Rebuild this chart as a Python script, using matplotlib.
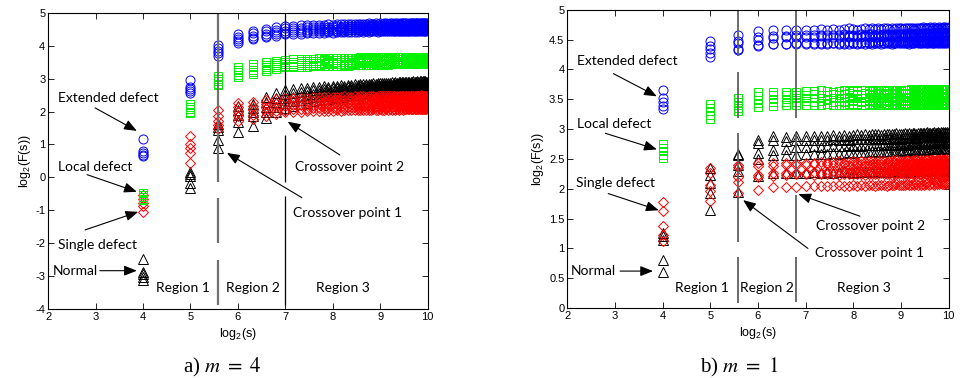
import numpy as np
import matplotlib
matplotlib.use('Agg')
import matplotlib.pyplot as plt
from matplotlib.ticker import FuncFormatter, MultipleLocator

plt.rcParams['font.family'] = ['Liberation Sans', 'DejaVu Sans']
plt.rcParams['axes.unicode_minus'] = False
plt.rcParams['mathtext.fontset'] = 'custom'
plt.rcParams['mathtext.rm'] = 'Liberation Sans'
plt.rcParams['mathtext.it'] = 'Liberation Sans:italic'

# window sizes s
S_VALUES = [16, 32, 48, 64, 80, 96, 112, 128, 144, 160, 176, 192, 208, 224, 240, 256,
            272, 288, 304, 320, 336, 352, 368, 384, 400, 416, 432, 448, 464, 480, 496, 512,
            528, 544, 560, 576, 592, 608, 624, 640, 656, 672, 688, 704, 720, 736, 752, 768,
            784, 800, 816, 832, 848, 864, 880, 896, 912, 928, 944, 960, 976, 992, 1008, 1024]

# ---------------- panel a) m = 4 ----------------
A_EXTENDED = [
    [1.15, 2.95, 4.02, 4.35, 4.45, 4.52, 4.56, 4.60, 4.61, 4.62, 4.63, 4.62, 4.64, 4.64, 4.65, 4.64,
     4.65, 4.66, 4.65, 4.66, 4.66, 4.67, 4.66, 4.67, 4.66, 4.67, 4.68, 4.67, 4.66, 4.68, 4.67, 4.68,
     4.67, 4.68, 4.69, 4.67, 4.68, 4.68, 4.67, 4.69, 4.68, 4.67, 4.68, 4.69, 4.68, 4.68, 4.69, 4.67,
     4.68, 4.69, 4.68, 4.69, 4.68, 4.70, 4.68, 4.69, 4.68, 4.69, 4.70, 4.68, 4.69, 4.68, 4.69, 4.68],
    [0.80, 2.75, 3.92, 4.27, 4.38, 4.44, 4.49, 4.53, 4.54, 4.55, 4.56, 4.56, 4.57, 4.58, 4.57, 4.58,
     4.59, 4.58, 4.59, 4.60, 4.59, 4.60, 4.61, 4.60, 4.60, 4.61, 4.60, 4.61, 4.62, 4.60, 4.61, 4.62,
     4.61, 4.60, 4.62, 4.61, 4.62, 4.61, 4.60, 4.62, 4.61, 4.62, 4.63, 4.61, 4.62, 4.61, 4.62, 4.63,
     4.61, 4.62, 4.63, 4.62, 4.61, 4.62, 4.63, 4.62, 4.61, 4.63, 4.62, 4.62, 4.63, 4.61, 4.62, 4.63],
    [0.74, 2.68, 3.84, 4.20, 4.30, 4.37, 4.42, 4.46, 4.47, 4.48, 4.49, 4.50, 4.50, 4.51, 4.52, 4.51,
     4.52, 4.53, 4.52, 4.53, 4.54, 4.53, 4.54, 4.55, 4.54, 4.53, 4.55, 4.54, 4.55, 4.56, 4.54, 4.55,
     4.56, 4.55, 4.54, 4.56, 4.55, 4.56, 4.55, 4.57, 4.55, 4.56, 4.55, 4.56, 4.57, 4.55, 4.56, 4.57,
     4.56, 4.55, 4.57, 4.56, 4.57, 4.56, 4.55, 4.57, 4.56, 4.57, 4.56, 4.58, 4.56, 4.57, 4.56, 4.57],
    [0.69, 2.62, 3.77, 4.14, 4.24, 4.31, 4.36, 4.40, 4.41, 4.42, 4.43, 4.44, 4.44, 4.45, 4.46, 4.45,
     4.46, 4.47, 4.46, 4.47, 4.48, 4.47, 4.48, 4.47, 4.48, 4.49, 4.48, 4.49, 4.48, 4.49, 4.50, 4.49,
     4.48, 4.50, 4.49, 4.50, 4.49, 4.50, 4.51, 4.49, 4.50, 4.49, 4.51, 4.50, 4.49, 4.50, 4.51, 4.50,
     4.50, 4.51, 4.49, 4.50, 4.51, 4.50, 4.52, 4.50, 4.51, 4.50, 4.51, 4.50, 4.52, 4.51, 4.50, 4.51],
    [0.66, 2.57, 3.70, 4.08, 4.19, 4.26, 4.31, 4.35, 4.36, 4.37, 4.38, 4.39, 4.39, 4.40, 4.41, 4.40,
     4.41, 4.42, 4.41, 4.42, 4.43, 4.42, 4.43, 4.44, 4.43, 4.44, 4.43, 4.44, 4.45, 4.44, 4.43, 4.45,
     4.44, 4.45, 4.44, 4.45, 4.46, 4.44, 4.45, 4.46, 4.45, 4.44, 4.46, 4.45, 4.46, 4.45, 4.46, 4.45,
     4.46, 4.45, 4.47, 4.46, 4.45, 4.46, 4.47, 4.46, 4.45, 4.47, 4.46, 4.47, 4.46, 4.45, 4.46, 4.47],
]
A_LOCAL = [
    [-0.48, 2.22, 3.07, 3.35, 3.43, 3.50, 3.55, 3.58, 3.59, 3.60, 3.60, 3.61, 3.62, 3.61, 3.62, 3.63,
     3.62, 3.63, 3.64, 3.63, 3.64, 3.63, 3.64, 3.65, 3.64, 3.65, 3.64, 3.65, 3.66, 3.64, 3.65, 3.66,
     3.65, 3.66, 3.65, 3.64, 3.66, 3.65, 3.66, 3.67, 3.65, 3.66, 3.65, 3.66, 3.67, 3.66, 3.65, 3.66,
     3.67, 3.66, 3.65, 3.66, 3.67, 3.66, 3.67, 3.65, 3.66, 3.67, 3.66, 3.67, 3.66, 3.67, 3.66, 3.67],
    [-0.55, 2.14, 2.99, 3.27, 3.35, 3.42, 3.47, 3.51, 3.52, 3.53, 3.54, 3.54, 3.55, 3.56, 3.55, 3.56,
     3.57, 3.56, 3.57, 3.58, 3.57, 3.58, 3.59, 3.58, 3.57, 3.59, 3.58, 3.59, 3.60, 3.58, 3.59, 3.60,
     3.59, 3.58, 3.60, 3.59, 3.60, 3.59, 3.61, 3.59, 3.60, 3.59, 3.60, 3.61, 3.59, 3.60, 3.61, 3.60,
     3.59, 3.60, 3.61, 3.60, 3.59, 3.61, 3.60, 3.61, 3.60, 3.59, 3.61, 3.60, 3.61, 3.60, 3.62, 3.60],
    [-0.60, 2.07, 2.92, 3.20, 3.27, 3.35, 3.40, 3.44, 3.45, 3.46, 3.47, 3.48, 3.48, 3.49, 3.50, 3.49,
     3.50, 3.51, 3.50, 3.51, 3.52, 3.51, 3.52, 3.53, 3.52, 3.53, 3.52, 3.53, 3.54, 3.53, 3.52, 3.54,
     3.53, 3.54, 3.53, 3.54, 3.55, 3.53, 3.54, 3.55, 3.54, 3.53, 3.55, 3.54, 3.55, 3.54, 3.55, 3.54,
     3.55, 3.54, 3.56, 3.55, 3.54, 3.55, 3.56, 3.55, 3.54, 3.56, 3.55, 3.56, 3.55, 3.54, 3.55, 3.56],
    [-0.65, 2.00, 2.85, 3.12, 3.20, 3.28, 3.35, 3.38, 3.39, 3.40, 3.41, 3.42, 3.42, 3.43, 3.44, 3.43,
     3.44, 3.45, 3.44, 3.45, 3.46, 3.45, 3.46, 3.47, 3.46, 3.47, 3.46, 3.47, 3.48, 3.47, 3.46, 3.48,
     3.47, 3.48, 3.49, 3.47, 3.48, 3.49, 3.48, 3.49, 3.50, 3.48, 3.49, 3.50, 3.49, 3.48, 3.50, 3.49,
     3.50, 3.49, 3.50, 3.51, 3.49, 3.50, 3.51, 3.50, 3.49, 3.51, 3.50, 3.51, 3.50, 3.49, 3.50, 3.51],
    [-0.70, 1.95, 2.80, 3.06, 3.15, 3.23, 3.30, 3.34, 3.35, 3.36, 3.36, 3.37, 3.38, 3.37, 3.38, 3.39,
     3.38, 3.39, 3.40, 3.39, 3.40, 3.41, 3.40, 3.41, 3.42, 3.41, 3.42, 3.41, 3.42, 3.43, 3.42, 3.43,
     3.42, 3.43, 3.44, 3.42, 3.43, 3.44, 3.43, 3.44, 3.45, 3.43, 3.44, 3.45, 3.44, 3.43, 3.45, 3.44,
     3.45, 3.44, 3.45, 3.46, 3.44, 3.45, 3.46, 3.45, 3.44, 3.46, 3.45, 3.46, 3.45, 3.44, 3.45, 3.46],
]
A_NORMAL = [
    [-2.47, 0.15, 1.62, 2.18, 2.22, 2.45, 2.55, 2.66, 2.68, 2.71, 2.72, 2.74, 2.75, 2.77, 2.76, 2.78,
     2.79, 2.80, 2.79, 2.81, 2.82, 2.83, 2.82, 2.84, 2.83, 2.85, 2.84, 2.85, 2.86, 2.85, 2.86, 2.87,
     2.86, 2.87, 2.88, 2.87, 2.88, 2.89, 2.88, 2.89, 2.88, 2.90, 2.89, 2.90, 2.89, 2.91, 2.90, 2.89,
     2.90, 2.91, 2.90, 2.92, 2.91, 2.90, 2.92, 2.91, 2.92, 2.93, 2.91, 2.92, 2.93, 2.92, 2.91, 2.93],
    [-2.88, 0.10, 1.52, 2.05, 2.10, 2.30, 2.42, 2.52, 2.56, 2.59, 2.62, 2.64, 2.66, 2.67, 2.69, 2.70,
     2.71, 2.72, 2.73, 2.74, 2.75, 2.74, 2.76, 2.77, 2.76, 2.78, 2.77, 2.78, 2.79, 2.78, 2.80, 2.79,
     2.80, 2.81, 2.80, 2.81, 2.82, 2.81, 2.82, 2.81, 2.83, 2.82, 2.83, 2.82, 2.84, 2.83, 2.82, 2.84,
     2.83, 2.84, 2.83, 2.85, 2.84, 2.83, 2.84, 2.85, 2.84, 2.83, 2.85, 2.84, 2.85, 2.84, 2.86, 2.85],
    [-2.95, 0.05, 1.45, 1.90, 2.00, 2.15, 2.30, 2.40, 2.44, 2.48, 2.51, 2.54, 2.56, 2.58, 2.60, 2.61,
     2.62, 2.64, 2.65, 2.66, 2.67, 2.68, 2.68, 2.69, 2.70, 2.70, 2.71, 2.72, 2.71, 2.72, 2.73, 2.72,
     2.73, 2.74, 2.73, 2.74, 2.75, 2.74, 2.75, 2.76, 2.75, 2.74, 2.76, 2.75, 2.76, 2.77, 2.76, 2.75,
     2.76, 2.77, 2.76, 2.77, 2.78, 2.76, 2.77, 2.78, 2.77, 2.76, 2.78, 2.77, 2.78, 2.77, 2.78, 2.79],
    [-3.03, -0.18, 1.12, 1.68, 1.85, 2.00, 2.15, 2.27, 2.32, 2.36, 2.40, 2.43, 2.46, 2.48, 2.50, 2.52,
     2.53, 2.55, 2.56, 2.57, 2.58, 2.59, 2.60, 2.61, 2.61, 2.62, 2.63, 2.63, 2.64, 2.64, 2.65, 2.65,
     2.66, 2.65, 2.66, 2.67, 2.66, 2.67, 2.68, 2.67, 2.68, 2.67, 2.68, 2.69, 2.68, 2.69, 2.68, 2.69,
     2.70, 2.69, 2.70, 2.69, 2.71, 2.70, 2.69, 2.70, 2.71, 2.70, 2.71, 2.70, 2.72, 2.71, 2.70, 2.71],
    [-3.12, -0.33, 0.88, 1.37, 1.57, 1.80, 1.98, 2.12, 2.18, 2.23, 2.27, 2.31, 2.34, 2.37, 2.39, 2.41,
     2.43, 2.45, 2.46, 2.48, 2.49, 2.50, 2.51, 2.52, 2.53, 2.54, 2.54, 2.55, 2.56, 2.56, 2.57, 2.57,
     2.58, 2.58, 2.59, 2.59, 2.60, 2.59, 2.60, 2.61, 2.60, 2.61, 2.60, 2.61, 2.62, 2.61, 2.62, 2.61,
     2.62, 2.61, 2.62, 2.63, 2.62, 2.63, 2.62, 2.63, 2.64, 2.62, 2.63, 2.64, 2.63, 2.62, 2.63, 2.64],
]
A_SINGLE = [
    [-0.55, 1.27, 2.05, 2.27, 2.30, 2.35, 2.38, 2.40, 2.41, 2.42, 2.42, 2.43, 2.44, 2.43, 2.44, 2.45,
     2.44, 2.45, 2.46, 2.45, 2.44, 2.46, 2.45, 2.46, 2.47, 2.45, 2.46, 2.47, 2.46, 2.45, 2.47, 2.46,
     2.47, 2.46, 2.47, 2.48, 2.46, 2.47, 2.46, 2.48, 2.47, 2.46, 2.47, 2.48, 2.47, 2.46, 2.48, 2.47,
     2.46, 2.47, 2.48, 2.47, 2.48, 2.46, 2.47, 2.48, 2.47, 2.49, 2.47, 2.48, 2.47, 2.46, 2.48, 2.47],
    [-0.65, 1.00, 1.85, 2.13, 2.18, 2.24, 2.27, 2.30, 2.31, 2.32, 2.33, 2.32, 2.34, 2.33, 2.35, 2.34,
     2.35, 2.34, 2.36, 2.35, 2.36, 2.35, 2.34, 2.36, 2.37, 2.36, 2.35, 2.37, 2.36, 2.37, 2.36, 2.35,
     2.37, 2.36, 2.38, 2.37, 2.36, 2.37, 2.38, 2.36, 2.37, 2.38, 2.37, 2.36, 2.38, 2.37, 2.38, 2.37,
     2.38, 2.36, 2.37, 2.38, 2.37, 2.39, 2.38, 2.37, 2.38, 2.37, 2.36, 2.38, 2.37, 2.38, 2.39, 2.37],
    [-0.78, 0.90, 1.70, 1.98, 2.05, 2.10, 2.14, 2.18, 2.19, 2.20, 2.21, 2.21, 2.22, 2.23, 2.22, 2.23,
     2.24, 2.23, 2.24, 2.25, 2.24, 2.25, 2.26, 2.24, 2.25, 2.26, 2.25, 2.26, 2.27, 2.25, 2.26, 2.27,
     2.26, 2.25, 2.27, 2.26, 2.27, 2.26, 2.28, 2.26, 2.27, 2.26, 2.27, 2.28, 2.26, 2.27, 2.28, 2.27,
     2.26, 2.27, 2.28, 2.27, 2.26, 2.28, 2.27, 2.28, 2.27, 2.26, 2.28, 2.27, 2.28, 2.27, 2.29, 2.27],
    [-0.88, 0.75, 1.60, 1.85, 1.90, 1.97, 2.02, 2.06, 2.07, 2.08, 2.09, 2.10, 2.10, 2.11, 2.12, 2.11,
     2.12, 2.13, 2.12, 2.13, 2.14, 2.13, 2.14, 2.15, 2.14, 2.15, 2.14, 2.15, 2.16, 2.15, 2.14, 2.16,
     2.15, 2.16, 2.15, 2.16, 2.17, 2.15, 2.16, 2.17, 2.16, 2.15, 2.17, 2.16, 2.17, 2.16, 2.17, 2.16,
     2.17, 2.16, 2.18, 2.17, 2.16, 2.17, 2.18, 2.17, 2.16, 2.18, 2.17, 2.18, 2.17, 2.16, 2.17, 2.18],
    [-1.05, 0.43, 1.48, 1.72, 1.78, 1.85, 1.93, 1.98, 1.99, 2.00, 2.01, 2.01, 2.02, 2.03, 2.02, 2.03,
     2.04, 2.03, 2.04, 2.05, 2.04, 2.05, 2.06, 2.05, 2.04, 2.06, 2.05, 2.06, 2.07, 2.05, 2.06, 2.07,
     2.06, 2.05, 2.07, 2.06, 2.07, 2.06, 2.08, 2.06, 2.07, 2.06, 2.07, 2.08, 2.06, 2.07, 2.08, 2.07,
     2.08, 2.07, 2.08, 2.07, 2.09, 2.07, 2.08, 2.07, 2.08, 2.09, 2.07, 2.08, 2.07, 2.08, 2.09, 2.08],
]

# ---------------- panel b) m = 1 ----------------
B_EXTENDED = [
    [3.66, 4.47, 4.58, 4.64, 4.66, 4.66, 4.66, 4.67, 4.67, 4.68, 4.67, 4.68, 4.67, 4.68, 4.69, 4.68,
     4.67, 4.68, 4.69, 4.68, 4.69, 4.68, 4.69, 4.68, 4.69, 4.70, 4.68, 4.69, 4.68, 4.69, 4.70, 4.69,
     4.68, 4.69, 4.70, 4.69, 4.70, 4.69, 4.68, 4.70, 4.69, 4.70, 4.69, 4.71, 4.69, 4.70, 4.69, 4.70,
     4.71, 4.69, 4.70, 4.71, 4.70, 4.69, 4.70, 4.71, 4.70, 4.69, 4.71, 4.70, 4.71, 4.70, 4.69, 4.71],
    [3.52, 4.40, 4.47, 4.55, 4.56, 4.56, 4.57, 4.57, 4.58, 4.57, 4.58, 4.57, 4.58, 4.59, 4.58, 4.57,
     4.58, 4.59, 4.58, 4.59, 4.60, 4.58, 4.59, 4.58, 4.59, 4.60, 4.59, 4.58, 4.60, 4.59, 4.60, 4.59,
     4.60, 4.59, 4.60, 4.61, 4.59, 4.60, 4.59, 4.60, 4.61, 4.60, 4.59, 4.60, 4.61, 4.60, 4.61, 4.60,
     4.59, 4.61, 4.60, 4.61, 4.60, 4.62, 4.60, 4.61, 4.60, 4.61, 4.62, 4.60, 4.61, 4.62, 4.61, 4.60],
    [3.46, 4.35, 4.44, 4.50, 4.53, 4.54, 4.55, 4.55, 4.55, 4.56, 4.55, 4.54, 4.55, 4.56, 4.55, 4.56,
     4.55, 4.54, 4.56, 4.55, 4.56, 4.55, 4.54, 4.56, 4.55, 4.56, 4.57, 4.55, 4.56, 4.55, 4.56, 4.57,
     4.55, 4.56, 4.55, 4.57, 4.56, 4.55, 4.56, 4.57, 4.56, 4.55, 4.56, 4.57, 4.56, 4.55, 4.57, 4.56,
     4.56, 4.55, 4.57, 4.56, 4.57, 4.56, 4.55, 4.56, 4.57, 4.56, 4.57, 4.55, 4.56, 4.57, 4.56, 4.57],
    [3.39, 4.27, 4.34, 4.41, 4.43, 4.43, 4.44, 4.44, 4.44, 4.45, 4.44, 4.45, 4.44, 4.45, 4.46, 4.45,
     4.44, 4.45, 4.46, 4.45, 4.46, 4.45, 4.46, 4.47, 4.45, 4.46, 4.47, 4.46, 4.45, 4.47, 4.46, 4.47,
     4.46, 4.47, 4.46, 4.47, 4.48, 4.46, 4.47, 4.48, 4.47, 4.46, 4.48, 4.47, 4.48, 4.47, 4.46, 4.48,
     4.47, 4.48, 4.47, 4.48, 4.49, 4.47, 4.48, 4.47, 4.49, 4.48, 4.47, 4.48, 4.49, 4.48, 4.47, 4.49],
    [3.34, 4.21, 4.32, 4.39, 4.42, 4.42, 4.42, 4.43, 4.43, 4.42, 4.43, 4.44, 4.43, 4.42, 4.43, 4.44,
     4.43, 4.44, 4.43, 4.44, 4.43, 4.45, 4.44, 4.43, 4.44, 4.45, 4.44, 4.43, 4.44, 4.45, 4.44, 4.45,
     4.44, 4.45, 4.44, 4.43, 4.45, 4.44, 4.45, 4.46, 4.44, 4.45, 4.44, 4.45, 4.46, 4.45, 4.44, 4.45,
     4.46, 4.45, 4.44, 4.45, 4.46, 4.45, 4.46, 4.45, 4.44, 4.46, 4.45, 4.46, 4.45, 4.46, 4.45, 4.46],
]
B_LOCAL = [
    [2.75, 3.42, 3.52, 3.62, 3.63, 3.63, 3.63, 3.64, 3.64, 3.65, 3.64, 3.63, 3.64, 3.65, 3.64, 3.65,
     3.64, 3.65, 3.66, 3.64, 3.65, 3.64, 3.65, 3.66, 3.65, 3.64, 3.65, 3.66, 3.65, 3.66, 3.65, 3.64,
     3.65, 3.66, 3.65, 3.66, 3.67, 3.65, 3.66, 3.65, 3.66, 3.67, 3.65, 3.66, 3.65, 3.66, 3.67, 3.66,
     3.65, 3.66, 3.67, 3.66, 3.65, 3.66, 3.67, 3.66, 3.67, 3.65, 3.66, 3.67, 3.66, 3.65, 3.66, 3.67],
    [2.69, 3.36, 3.46, 3.55, 3.57, 3.57, 3.58, 3.58, 3.59, 3.58, 3.57, 3.59, 3.58, 3.59, 3.60, 3.58,
     3.59, 3.58, 3.60, 3.59, 3.58, 3.59, 3.60, 3.59, 3.58, 3.60, 3.59, 3.60, 3.59, 3.61, 3.59, 3.60,
     3.59, 3.60, 3.61, 3.59, 3.60, 3.59, 3.61, 3.60, 3.59, 3.60, 3.61, 3.60, 3.59, 3.61, 3.60, 3.59,
     3.60, 3.61, 3.59, 3.60, 3.61, 3.60, 3.59, 3.61, 3.60, 3.61, 3.60, 3.59, 3.61, 3.60, 3.61, 3.60],
    [2.63, 3.30, 3.41, 3.49, 3.51, 3.51, 3.52, 3.52, 3.53, 3.52, 3.51, 3.53, 3.52, 3.53, 3.54, 3.52,
     3.53, 3.52, 3.53, 3.54, 3.53, 3.52, 3.54, 3.53, 3.52, 3.53, 3.54, 3.53, 3.54, 3.52, 3.53, 3.54,
     3.53, 3.54, 3.53, 3.52, 3.54, 3.53, 3.54, 3.55, 3.53, 3.54, 3.53, 3.54, 3.55, 3.53, 3.54, 3.53,
     3.54, 3.55, 3.53, 3.54, 3.55, 3.54, 3.53, 3.54, 3.55, 3.54, 3.53, 3.55, 3.54, 3.55, 3.54, 3.53],
    [2.57, 3.24, 3.36, 3.43, 3.45, 3.46, 3.46, 3.47, 3.46, 3.47, 3.48, 3.46, 3.47, 3.46, 3.47, 3.48,
     3.47, 3.46, 3.47, 3.48, 3.47, 3.46, 3.48, 3.47, 3.48, 3.47, 3.46, 3.48, 3.47, 3.48, 3.49, 3.47,
     3.48, 3.47, 3.48, 3.47, 3.49, 3.48, 3.47, 3.48, 3.49, 3.47, 3.48, 3.47, 3.48, 3.49, 3.48, 3.47,
     3.48, 3.49, 3.48, 3.47, 3.48, 3.49, 3.48, 3.49, 3.47, 3.48, 3.49, 3.48, 3.47, 3.49, 3.48, 3.49],
    [2.52, 3.17, 3.31, 3.37, 3.39, 3.40, 3.40, 3.41, 3.40, 3.41, 3.42, 3.41, 3.40, 3.41, 3.42, 3.41,
     3.42, 3.41, 3.40, 3.42, 3.41, 3.42, 3.41, 3.43, 3.41, 3.42, 3.41, 3.40, 3.42, 3.41, 3.42, 3.43,
     3.41, 3.42, 3.41, 3.42, 3.43, 3.41, 3.42, 3.41, 3.43, 3.42, 3.41, 3.42, 3.43, 3.42, 3.41, 3.42,
     3.43, 3.42, 3.41, 3.42, 3.43, 3.42, 3.41, 3.43, 3.42, 3.43, 3.42, 3.41, 3.43, 3.42, 3.43, 3.42],
]
B_NORMAL = [
    [1.26, 2.35, 2.59, 2.82, 2.88, 2.87, 2.88, 2.88, 2.89, 2.88, 2.89, 2.90, 2.89, 2.90, 2.89, 2.90,
     2.91, 2.90, 2.91, 2.90, 2.91, 2.92, 2.91, 2.90, 2.92, 2.91, 2.92, 2.91, 2.92, 2.93, 2.92, 2.91,
     2.92, 2.93, 2.92, 2.93, 2.92, 2.94, 2.93, 2.92, 2.93, 2.94, 2.93, 2.94, 2.93, 2.94, 2.95, 2.93,
     2.94, 2.93, 2.94, 2.95, 2.94, 2.93, 2.95, 2.94, 2.95, 2.94, 2.96, 2.94, 2.95, 2.94, 2.95, 2.96],
    [1.20, 2.23, 2.56, 2.77, 2.82, 2.80, 2.81, 2.81, 2.82, 2.81, 2.82, 2.83, 2.82, 2.83, 2.82, 2.83,
     2.84, 2.83, 2.84, 2.83, 2.84, 2.85, 2.84, 2.83, 2.85, 2.84, 2.85, 2.84, 2.85, 2.86, 2.85, 2.84,
     2.85, 2.86, 2.85, 2.86, 2.85, 2.87, 2.86, 2.85, 2.86, 2.87, 2.86, 2.87, 2.86, 2.87, 2.88, 2.86,
     2.87, 2.86, 2.87, 2.88, 2.87, 2.86, 2.88, 2.87, 2.88, 2.87, 2.89, 2.87, 2.88, 2.87, 2.88, 2.89],
    [1.14, 2.09, 2.40, 2.60, 2.65, 2.66, 2.70, 2.70, 2.71, 2.70, 2.71, 2.72, 2.71, 2.72, 2.73, 2.72,
     2.73, 2.72, 2.73, 2.74, 2.73, 2.74, 2.73, 2.74, 2.75, 2.74, 2.73, 2.75, 2.74, 2.75, 2.74, 2.75,
     2.76, 2.75, 2.74, 2.76, 2.75, 2.76, 2.75, 2.76, 2.77, 2.75, 2.76, 2.77, 2.76, 2.75, 2.77, 2.76,
     2.77, 2.76, 2.77, 2.78, 2.76, 2.77, 2.78, 2.77, 2.76, 2.78, 2.77, 2.78, 2.77, 2.79, 2.78, 2.77],
    [0.80, 1.93, 2.29, 2.50, 2.57, 2.57, 2.57, 2.58, 2.59, 2.58, 2.59, 2.60, 2.59, 2.60, 2.61, 2.60,
     2.61, 2.62, 2.61, 2.62, 2.63, 2.62, 2.63, 2.62, 2.63, 2.64, 2.63, 2.64, 2.63, 2.64, 2.65, 2.64,
     2.65, 2.64, 2.65, 2.66, 2.65, 2.64, 2.66, 2.65, 2.66, 2.67, 2.65, 2.66, 2.67, 2.66, 2.65, 2.67,
     2.66, 2.67, 2.68, 2.66, 2.67, 2.68, 2.67, 2.66, 2.68, 2.67, 2.68, 2.69, 2.67, 2.68, 2.67, 2.68],
    [0.60, 1.65, 1.94, 2.21, 2.26, 2.27, 2.27, 2.27, 2.28, 2.27, 2.28, 2.27, 2.28, 2.29, 2.28, 2.27,
     2.28, 2.29, 2.28, 2.29, 2.28, 2.29, 2.30, 2.28, 2.29, 2.28, 2.29, 2.30, 2.29, 2.28, 2.29, 2.30,
     2.29, 2.30, 2.29, 2.28, 2.30, 2.29, 2.30, 2.29, 2.31, 2.29, 2.30, 2.29, 2.30, 2.31, 2.29, 2.30,
     2.30, 2.29, 2.31, 2.30, 2.29, 2.30, 2.31, 2.30, 2.29, 2.31, 2.30, 2.31, 2.30, 2.29, 2.31, 2.30],
]
B_SINGLE = [
    [1.77, 2.35, 2.40, 2.43, 2.43, 2.44, 2.43, 2.44, 2.44, 2.45, 2.44, 2.45, 2.46, 2.44, 2.45, 2.46,
     2.45, 2.46, 2.45, 2.46, 2.47, 2.45, 2.46, 2.47, 2.46, 2.45, 2.47, 2.46, 2.47, 2.48, 2.46, 2.47,
     2.46, 2.47, 2.48, 2.47, 2.46, 2.48, 2.47, 2.48, 2.47, 2.49, 2.47, 2.48, 2.47, 2.48, 2.49, 2.47,
     2.48, 2.49, 2.48, 2.47, 2.49, 2.48, 2.49, 2.48, 2.50, 2.48, 2.49, 2.48, 2.49, 2.50, 2.48, 2.49],
    [1.62, 2.26, 2.37, 2.38, 2.39, 2.40, 2.40, 2.40, 2.41, 2.40, 2.41, 2.40, 2.41, 2.42, 2.40, 2.41,
     2.42, 2.41, 2.40, 2.41, 2.42, 2.41, 2.42, 2.41, 2.40, 2.42, 2.41, 2.42, 2.43, 2.41, 2.42, 2.41,
     2.42, 2.43, 2.41, 2.42, 2.41, 2.42, 2.43, 2.42, 2.41, 2.42, 2.43, 2.42, 2.41, 2.43, 2.42, 2.43,
     2.42, 2.41, 2.43, 2.42, 2.43, 2.42, 2.41, 2.43, 2.42, 2.43, 2.42, 2.44, 2.42, 2.43, 2.42, 2.43],
    [1.37, 2.07, 2.20, 2.23, 2.26, 2.27, 2.27, 2.27, 2.28, 2.27, 2.28, 2.29, 2.28, 2.29, 2.28, 2.29,
     2.30, 2.29, 2.30, 2.29, 2.30, 2.31, 2.30, 2.29, 2.30, 2.31, 2.30, 2.31, 2.32, 2.30, 2.31, 2.30,
     2.31, 2.32, 2.31, 2.30, 2.32, 2.31, 2.32, 2.31, 2.33, 2.31, 2.32, 2.31, 2.32, 2.33, 2.32, 2.31,
     2.32, 2.33, 2.32, 2.31, 2.33, 2.32, 2.33, 2.32, 2.34, 2.32, 2.33, 2.32, 2.33, 2.34, 2.32, 2.33],
    [1.22, 1.96, 2.12, 2.20, 2.22, 2.23, 2.24, 2.24, 2.23, 2.24, 2.25, 2.24, 2.23, 2.24, 2.25, 2.24,
     2.25, 2.24, 2.23, 2.25, 2.24, 2.25, 2.24, 2.26, 2.24, 2.25, 2.24, 2.23, 2.25, 2.24, 2.25, 2.26,
     2.24, 2.25, 2.24, 2.25, 2.26, 2.24, 2.25, 2.24, 2.26, 2.25, 2.24, 2.25, 2.26, 2.25, 2.24, 2.25,
     2.26, 2.25, 2.24, 2.25, 2.26, 2.25, 2.24, 2.26, 2.25, 2.26, 2.25, 2.24, 2.26, 2.25, 2.26, 2.25],
    [1.12, 1.79, 1.93, 1.98, 2.03, 2.03, 2.03, 2.04, 2.04, 2.05, 2.04, 2.05, 2.06, 2.04, 2.05, 2.06,
     2.05, 2.06, 2.05, 2.06, 2.07, 2.05, 2.06, 2.07, 2.06, 2.05, 2.07, 2.06, 2.07, 2.08, 2.06, 2.07,
     2.06, 2.07, 2.08, 2.07, 2.06, 2.08, 2.07, 2.08, 2.07, 2.09, 2.07, 2.08, 2.07, 2.08, 2.09, 2.07,
     2.08, 2.09, 2.08, 2.07, 2.09, 2.08, 2.09, 2.08, 2.10, 2.08, 2.09, 2.08, 2.09, 2.10, 2.08, 2.09],
]

# crossover points (log2 s) and the visible pieces of their vertical lines
A_CROSS = [np.log2(48), 7.0]
B_CROSS = [np.log2(48), np.log2(112)]
A_LINE_PIECES = [[(5.0, -0.13), (-0.63, -2.0), (-2.51, -3.88)],
                 [(5.0, 1.9), (1.29, -0.13), (-0.58, -3.88)]]
B_LINE_PIECES = [[(5.0, 4.22), (3.96, 3.18), (2.93, 1.11), (0.86, 0.08)],
                 [(5.0, 3.18), (2.93, 2.2), (1.9, 1.26), (0.86, 0.1)]]

LABELS = ["Extended defect", "Local defect", "Single defect", "Normal",
          "Crossover point 2", "Crossover point 1"]
REGIONS = ["Region 1", "Region 2", "Region 3"]

ANNOT_FONT = ['Lato', 'DejaVu Sans']
x = np.log2(S_VALUES)

fig = plt.figure(figsize=(9.63, 3.78), dpi=100)
ax_a = fig.add_axes([0.050, 0.183, 0.394, 0.783])
ax_b = fig.add_axes([0.589, 0.185, 0.396, 0.789])

STYLE = [('normal', '^', 'k', 6.5), ('single', 'D', 'r', 5.0),
         ('local', 's', (0, 0.95, 0), 6.0), ('extended', 'o', 'b', 6.5)]


def draw(ax, normal, single, local, extended):
    data = {'normal': normal, 'single': single, 'local': local, 'extended': extended}
    for key, marker, color, ms in STYLE:
        for row in data[key]:
            ax.plot(x, row, linestyle='none', marker=marker, mfc='none', mec=color,
                    ms=ms, mew=0.7)


draw(ax_a, A_NORMAL, A_SINGLE, A_LOCAL, A_EXTENDED)
draw(ax_b, B_NORMAL, B_SINGLE, B_LOCAL, B_EXTENDED)

# crossover lines
for xc, pieces, col, lw in zip(A_CROSS, A_LINE_PIECES, ['#707070', 'k'], [1.6, 0.9]):
    for y0, y1 in pieces:
        ax_a.plot([xc, xc], [y0, y1], color=col, lw=lw, solid_capstyle='butt')
for xc, pieces in zip(B_CROSS, B_LINE_PIECES):
    for y0, y1 in pieces:
        ax_b.plot([xc, xc], [y0, y1], color='#606060', lw=1.3, solid_capstyle='butt')

fmt = FuncFormatter(lambda v, p: f'{v:g}')
for ax, ylim, step in [(ax_a, (-4, 5), 1), (ax_b, (0, 5), 0.5)]:
    ax.set_xlim(2, 10)
    ax.set_ylim(*ylim)
    ax.xaxis.set_major_locator(MultipleLocator(1))
    ax.yaxis.set_major_locator(MultipleLocator(step))
    ax.yaxis.set_major_formatter(fmt)
    ax.tick_params(direction='in', top=True, right=True, length=4, width=0.6,
                   labelsize=8, pad=2)
    for sp in ax.spines.values():
        sp.set_linewidth(0.8)
    ax.set_xlabel(r'log$_2$(s)', fontsize=9, labelpad=3)
    ax.set_ylabel(r'log$_2$(F(s))', fontsize=9, labelpad=2)

arrow_kw = dict(arrowstyle='-|>,head_length=0.7,head_width=0.28', color='k', lw=0.8,
                mutation_scale=11, shrinkA=0, shrinkB=0)

A_TEXT_POS = [(2.21, 2.42), (2.21, 0.32), (2.21, -2.05), (2.09, -2.84), (7.2, 0.32), (7.16, -1.08)]
A_ARROWS = [((2.99, 2.11), (3.87, 1.41)), ((2.82, 0.08), (3.87, -0.44)),
            ((2.78, -1.6), (3.9, -1.05)), ((3.09, -2.84), (3.87, -2.84)),
            ((8.15, 0.68), (7.05, 1.69)), ((7.35, -0.62), (5.77, 0.74))]
A_REGION_POS = [(4.84, -3.37), (6.32, -3.37), (8.21, -3.37)]

B_TEXT_POS = [(2.2, 4.14), (2.2, 3.09), (2.18, 2.09), (2.08, 0.62), (7.22, 1.38), (7.2, 0.92)]
B_ARROWS = [((2.97, 3.93), (3.88, 3.55)), ((2.8, 2.93), (3.88, 2.66)),
            ((2.86, 1.92), (3.92, 1.64)), ((3.11, 0.62), (3.8, 0.62)),
            ((8.14, 1.54), (6.85, 1.91)), ((7.05, 1.0), (5.69, 1.81))]
B_REGION_POS = [(4.82, 0.33), (6.18, 0.33), (8.23, 0.33)]

for ax, tpos, arrows, rpos in [(ax_a, A_TEXT_POS, A_ARROWS, A_REGION_POS),
                               (ax_b, B_TEXT_POS, B_ARROWS, B_REGION_POS)]:
    for lab, (tx, ty) in zip(LABELS, tpos):
        ax.text(tx, ty, lab, family=ANNOT_FONT, fontsize=10, ha='left', va='center')
    for (t, h) in arrows:
        ax.annotate('', xy=h, xytext=t, arrowprops=arrow_kw)
    for lab, (rx, ry) in zip(REGIONS, rpos):
        ax.text(rx, ry, lab, family=ANNOT_FONT, fontsize=10, ha='center', va='center')

fig.text(0.2305, 0.027, r'a) $m\ =\ 4$', family=['Liberation Serif', 'DejaVu Serif'],
         fontsize=15, ha='center', va='center', math_fontfamily='stix')
fig.text(0.768, 0.027, r'b) $m\ =\ 1$', family=['Liberation Serif', 'DejaVu Serif'],
         fontsize=15, ha='center', va='center', math_fontfamily='stix')

fig.savefig('out.png', dpi=100)
